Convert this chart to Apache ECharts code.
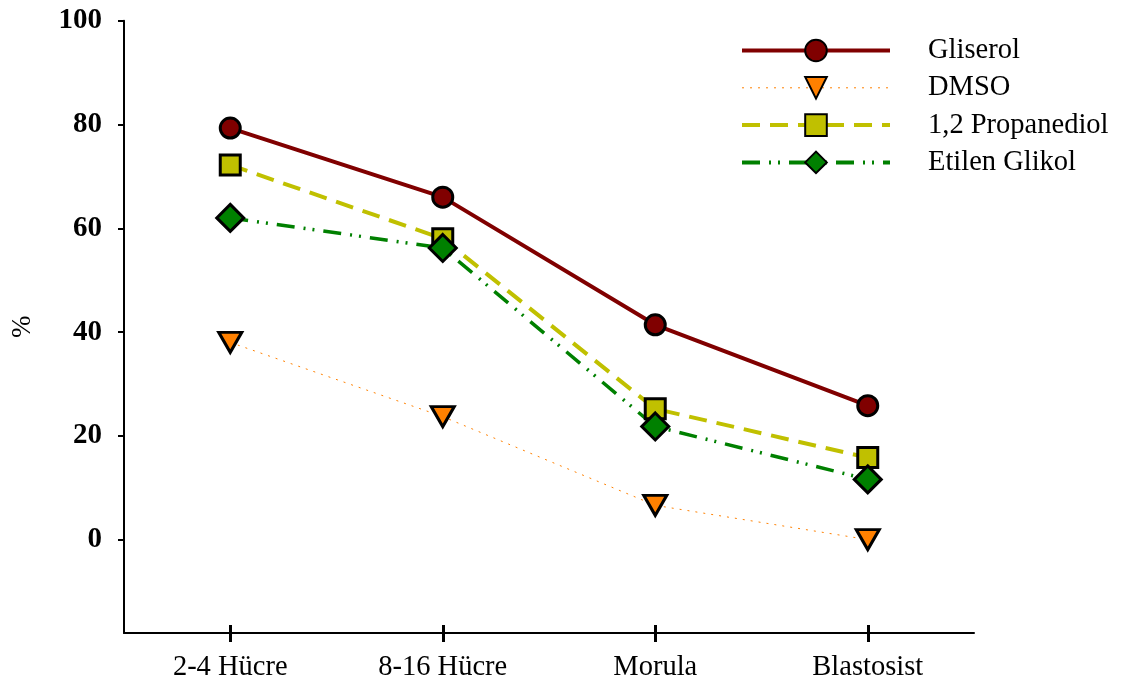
<!DOCTYPE html>
<html>
<head>
<meta charset="utf-8">
<script src="https://cdn.jsdelivr.net/npm/echarts@6/dist/echarts.min.js"></script>
<style>html,body{margin:0;padding:0;background:#fff;}#c{width:1121px;height:687px;}</style>
</head>
<body>
<div id="c"></div>
<script>
const categories = ['2-4 Hücre', '8-16 Hücre', 'Morula', 'Blastosist'];
const gliserol = [79.3, 66.0, 41.4, 25.8];
const dmso = [38.0, 23.7, 6.6, 0];
const propanediol = [72.2, 58.0, 25.2, 15.8];
const etilenGlikol = [62.0, 56.2, 21.8, 11.6];
const yTicks = [0, 20, 40, 60, 80, 100];

const serif = 'Liberation Serif, Times New Roman, serif';
const chart = echarts.init(document.getElementById('c'), null, {renderer: 'canvas'});
const mk = (name, data, color, lineStyle, symbol, size, rotate) => ({
  name, type: 'line', data, xAxisIndex: 0,
  symbol, symbolSize: size, symbolRotate: rotate || 0,
  lineStyle: Object.assign({color}, lineStyle),
  itemStyle: {color, borderColor: '#000', borderWidth: 3},
  emphasis: {disabled: true}, animation: false, z: 3
});
const legLine = (name, color, width, type) => ({name, lineStyle: {width, type, color}});
chart.setOption({
  animation: false,
  grid: {left: 124, right: 147, top: 20.7, bottom: 54},
  legend: {
    orient: 'vertical', left: 735, top: 31,
    itemWidth: 148, itemHeight: 27, itemGap: 8.3,
    textStyle: {fontFamily: serif, fontSize: 28.5, color: '#000', padding: [0, 0, 0, 33]},
    data: [
      legLine('Gliserol', '#800000', 4, 'solid'),
      legLine('DMSO', '#FF8000', 1, [2, 6]),
      legLine('1,2 Propanediol', '#C0C000', 4, [18, 10]),
      legLine('Etilen Glikol', '#008000', 4, [18, 9, 2, 7, 2, 9])
    ]
  },
  xAxis: [{
    type: 'category', data: categories, boundaryGap: true, position: 'bottom',
    axisLine: {show: true, onZero: false, lineStyle: {color: '#000', width: 2}},
    axisTick: {show: true, alignWithLabel: true, length: 9, lineStyle: {color: '#000', width: 3}},
    axisLabel: {fontFamily: serif, fontSize: 28.5, color: '#000', margin: 20}
  }, {
    type: 'category', data: categories, boundaryGap: true, position: 'bottom',
    axisLine: {show: false, onZero: false},
    axisTick: {show: true, alignWithLabel: true, inside: true, length: 8, lineStyle: {color: '#000', width: 3}},
    axisLabel: {show: false}
  }],
  yAxis: {
    type: 'value', min: -18, max: 100,
    name: '%', nameLocation: 'middle', nameRotate: 90, nameGap: 88,
    nameTextStyle: {fontFamily: serif, fontSize: 27, color: '#000'},
    axisLine: {show: true, lineStyle: {color: '#000', width: 2}},
    axisTick: {show: true, customValues: yTicks, length: 6, lineStyle: {color: '#000', width: 2}},
    axisLabel: {customValues: yTicks, fontFamily: serif, fontSize: 29, fontWeight: 'bold', color: '#000', margin: 22},
    splitLine: {show: false}
  },
  series: [
    mk('Gliserol', gliserol, '#800000', {width: 4, type: 'solid'}, 'circle', 20),
    mk('DMSO', dmso, '#FF8000', {width: 1, type: [2, 6]}, 'triangle', [23, 20], 180),
    mk('1,2 Propanediol', propanediol, '#C0C000', {width: 4, type: [18, 10]}, 'rect', 20),
    mk('Etilen Glikol', etilenGlikol, '#008000', {width: 3.5, type: [18, 9, 2, 7, 2, 9]}, 'diamond', 27)
  ]
});
</script>
</body>
</html>
